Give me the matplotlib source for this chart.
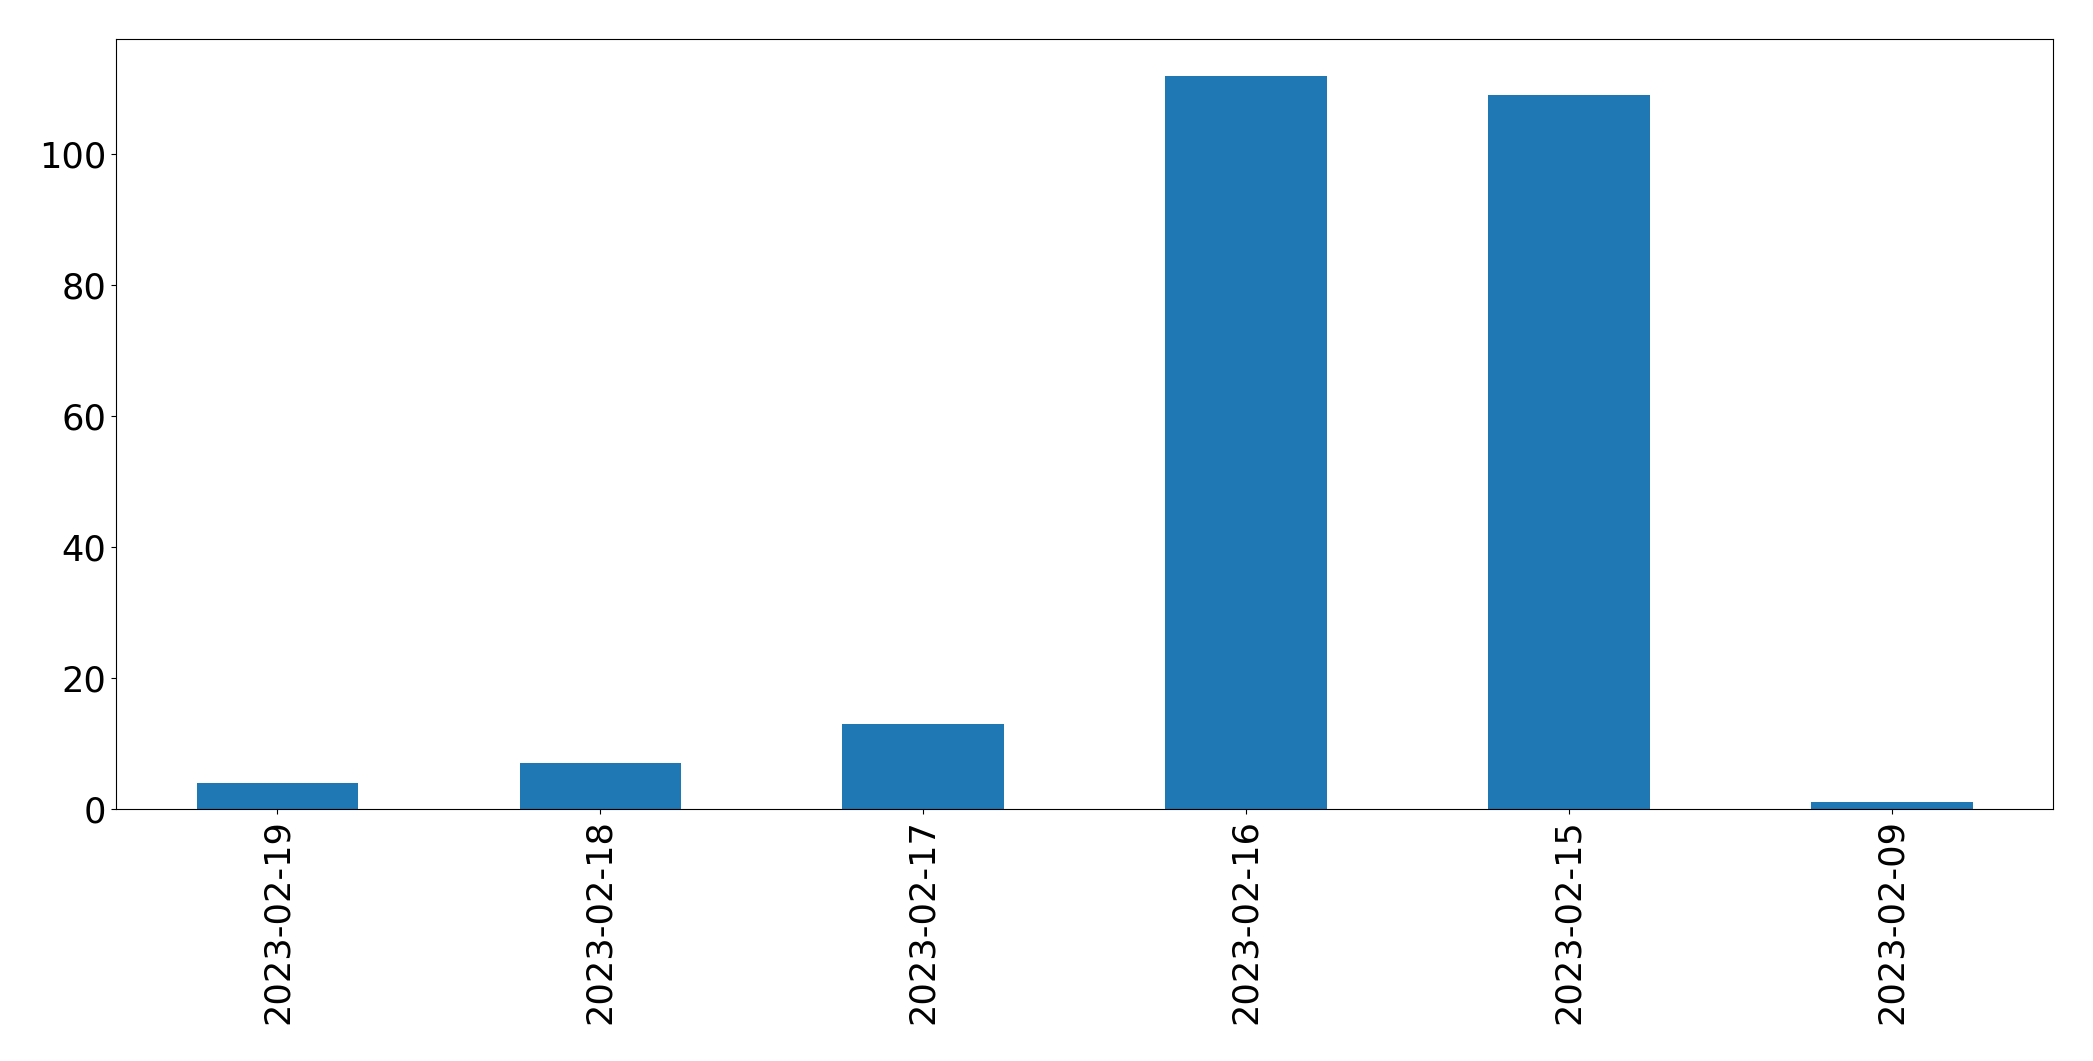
import matplotlib
matplotlib.use("Agg")
from matplotlib import pyplot as plt
import numpy as np

dates = ["2023-02-19", "2023-02-18", "2023-02-17", "2023-02-16", "2023-02-15", "2023-02-09"]
counts = [4, 7, 13, 112, 109, 1]

fig = plt.figure(figsize=(20.93, 10.61), dpi=100)
ax = fig.add_axes([0.0554, 0.2375, 0.9256, 0.7257])

x = np.arange(len(dates))
ax.bar(x, counts, width=0.5, color="#1f77b4")
ax.set_xlim(-0.5, len(dates) - 0.5)
ax.set_ylim(0, max(counts) * 1.05)
ax.set_xticks(x)
ax.set_xticklabels(dates, rotation=90, fontsize=25.3)
ax.tick_params(axis="y", labelsize=25.3)

fig.savefig("out.png", dpi=100)
